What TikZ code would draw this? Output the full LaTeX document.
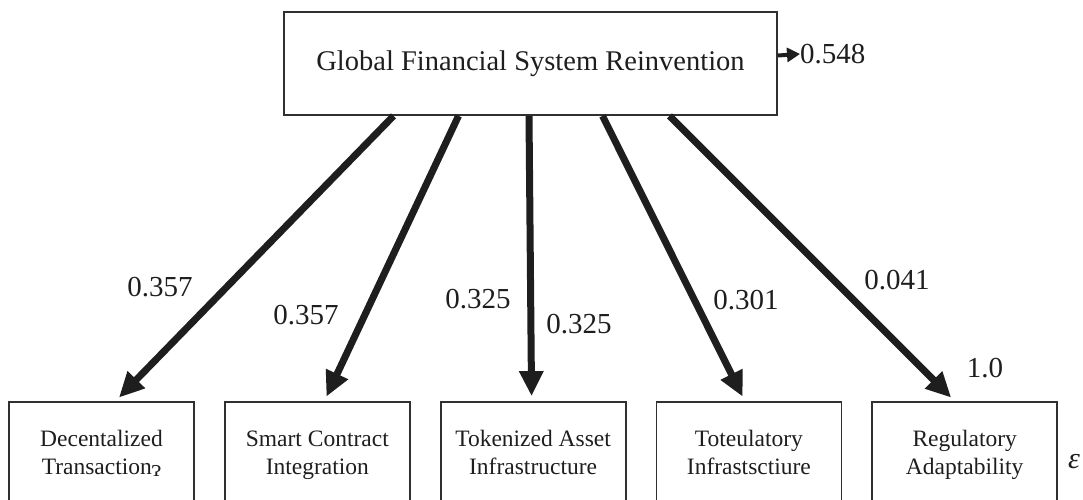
\documentclass[tikz,border=0pt]{standalone}
\usepackage{fontspec}
\setmainfont{Liberation Serif}
\usetikzlibrary{arrows.meta,positioning,calc}
\definecolor{Ink}{HTML}{1E1E1E}
\definecolor{Frame}{HTML}{303030}

\begin{document}
\begin{tikzpicture}[x=1pt, y=-1pt, every node/.style={text=Ink},
  factor/.style={draw=Frame, line width=1.8pt, minimum width=493pt, minimum height=103pt, inner sep=0pt, font=\fontsize{28.5}{34}\selectfont},
  item/.style={draw=Frame, line width=1.8pt, minimum width=185pt, minimum height=110pt, inner sep=0pt, align=center, font=\fontsize{23.5}{28}\selectfont,
    execute at begin node=\strut, execute at end node=\strut},
  weight/.style={inner sep=0pt, font=\fontsize{29}{34}\selectfont},
  load/.style={-{Triangle[length=25pt, width=23pt]}, line width=7pt, draw=Ink, shorten >=5pt},
  resid/.style={-{Triangle[length=13pt, width=14pt]}, line width=4pt, draw=Ink}]
  \clip (0,0) rectangle (1083,500);

  % latent factor and its indicators
  \node[factor] (gfs) at (530.5,63.5) {Global Financial System Reinvention};
  \node[item] (dec) at (101.5,457) {Decentalized\\Transaction\raisebox{-0.1ex}{ɂ}};
  \node[item, right=29pt of dec] (sci) {Smart Contract\\Integration};
  \node[item, right=29pt of sci] (tai) {Tokenized Asset\\Infrastructure};
  \node[item, right=29pt of tai] (toi) {Toteulatory\\Infrastsctiure};
  \node[item, right=29pt of toi] (rad) {Regulatory\\Adaptability};

  % loadings
  \draw[load] ([xshift=-137pt]gfs.south) -- ([xshift=14pt]dec.north);
  \draw[load] ([xshift=-72pt]gfs.south) -- ([xshift=7pt]sci.north);
  \draw[load] ([xshift=-1.5pt]gfs.south) -- ([xshift=-1.5pt]tai.north);
  \draw[load] ([xshift=72pt]gfs.south) -- ([xshift=-4pt]toi.north);
  \draw[load] ([xshift=139pt]gfs.south) -- ([xshift=-10pt]rad.north);

  \node[weight] (w1) at (160,287) {0.357};
  \node[weight] (w2) at (306,315) {0.357};
  \node[weight] (w3) at (478,299) {0.325};
  \node[weight] (w4) at (579,324) {0.325};
  \node[weight] (w5) at (746,300) {0.301};
  \node[weight] (w6) at (897,280) {0.041};
  \node[weight] (w7) at (985,368) {1.0};

  % residual
  \node[weight, anchor=west] (res) at (800,54) {0.548};
  \draw[resid] ([yshift=8pt]gfs.east) -- (res.west);
  \node[anchor=west, inner sep=0pt, font=\fontsize{30}{36}\selectfont\itshape] (eps) at (1068,462) {ε};
\end{tikzpicture}
\end{document}
